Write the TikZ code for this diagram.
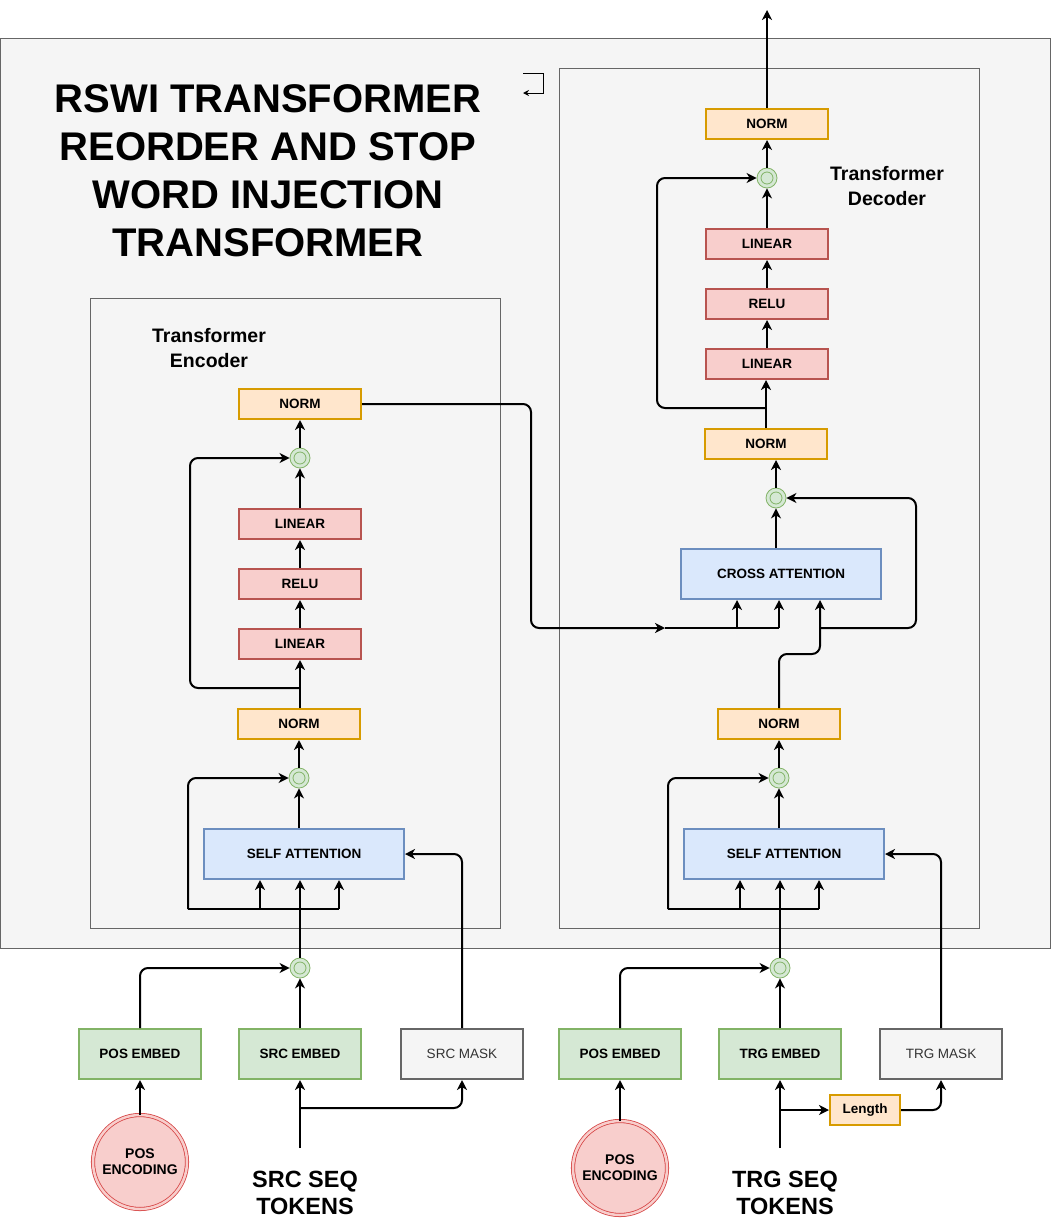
\documentclass[tikz,border=0pt]{standalone}
\usepackage{fontspec}
\setmainfont{Liberation Sans}
\usetikzlibrary{arrows.meta}
\definecolor{colorFrame}{HTML}{666666}
\definecolor{colorBack}{HTML}{F5F5F5}
\definecolor{colorNormFill}{HTML}{FFE6CC}
\definecolor{colorNormLine}{HTML}{D79B00}
\definecolor{colorFFFill}{HTML}{F8CECC}
\definecolor{colorFFLine}{HTML}{B85450}
\definecolor{colorAttFill}{HTML}{DAE8FC}
\definecolor{colorAttLine}{HTML}{6C8EBF}
\definecolor{colorEmbFill}{HTML}{D5E8D4}
\definecolor{colorEmbLine}{HTML}{82B366}
\definecolor{colorMaskText}{HTML}{333333}
\definecolor{colorEncLine}{HTML}{D64545}
\tikzset{
   container/.style={draw=colorFrame,fill=colorBack,line width=0.8pt},
   block/.style={minimum width=122pt,minimum height=30pt,inner sep=0pt,line width=2pt,
     font=\fontsize{13.5}{16}\selectfont\bfseries},
   normbox/.style={block,draw=colorNormLine,fill=colorNormFill},
   ffbox/.style={block,draw=colorFFLine,fill=colorFFFill},
   embbox/.style={block,minimum height=50pt,draw=colorEmbLine,fill=colorEmbFill},
   maskbox/.style={block,minimum height=50pt,draw=colorFrame,fill=colorBack,
     font=\fontsize{13.5}{16}\selectfont,text=colorMaskText},
   attbox/.style={block,minimum width=200pt,minimum height=50pt,draw=colorAttLine,fill=colorAttFill},
   lenbox/.style={block,minimum width=70pt,draw=colorNormLine,fill=colorNormFill},
   adder/.style={circle,minimum size=20pt,inner sep=0pt,draw=colorEmbLine,fill=colorEmbFill,line width=0.8pt,
     path picture={\draw[colorEmbLine,line width=0.8pt] (path picture bounding box.center) circle (6pt);}},
   posenc/.style={circle,minimum size=94pt,inner sep=0pt,draw=colorEncLine,line width=0.8pt,
     double=colorFFFill,double distance=2.5pt,fill=colorFFFill,align=center,
     font=\fontsize{14}{16}\selectfont\bfseries},
   tokens/.style={align=center,font=\fontsize{23.5}{27}\selectfont\bfseries},
   heading/.style={align=center,font=\fontsize{19.5}{24.5}\selectfont\bfseries},
   conn/.style={-{Stealth[length=10pt,width=10pt,inset=3pt]},line width=2pt,rounded corners=8pt},
   bus/.style={line width=2pt,rounded corners=8pt},
}
\newcommand{\dconn}[2]{\draw[conn] (#1) -- (#2)}
\begin{document}
\begin{tikzpicture}[x=1pt,y=-1pt]
      \useasboundingbox (0,0) rectangle (1051,1221);
      \draw[container] (0,38) rectangle (1050,948);
      \draw[container] (90,298) rectangle (500,928);
      \draw[container] (559,68) rectangle (979,928);
      \draw[-{Stealth[length=6pt,width=6pt]},line width=1pt] (523,73) -- (543,73) -- (543,93) -- (523,93);

      \node[align=center,font=\fontsize{40}{48}\selectfont\bfseries] (title) at (268,171)
        {RSWI TRANSFORMER\\REORDER AND STOP\\WORD INJECTION\\TRANSFORMER};
      \node[heading] (encLabel) at (209,348) {Transformer\\Encoder};
      \node[heading] (decLabel) at (887,186) {Transformer\\Decoder};

      % encoder
      \node[normbox] (encNormTop) at (300,404) {NORM};
      \node[adder] (encAddFF) at (300,458) {};
      \node[ffbox] (encLinB) at (300,524) {LINEAR};
      \node[ffbox] (encRelu) at (300,584) {RELU};
      \node[ffbox] (encLinA) at (300,644) {LINEAR};
      \node[normbox] (encNormAtt) at (299,724) {NORM};
      \node[adder] (encAddAtt) at (299,778) {};
      \node[attbox] (encSelfAtt) at (304,854) {SELF ATTENTION};
      \node[adder] (encAddIn) at (300,968) {};
      \node[embbox] (srcPosEmb) at (140,1054) {POS EMBED};
      \node[embbox] (srcEmb) at (300,1054) {SRC EMBED};
      \node[maskbox] (srcMask) at (462,1054) {SRC MASK};
      \node[posenc] (srcPosEnc) at (140,1162) {POS\\ENCODING};
      \node[tokens] (srcTokens) at (305,1193) {SRC SEQ\\TOKENS};
      \coordinate (srcIn) at (300,1148);
      \coordinate (srcSplit) at (300,1108);
      \coordinate (encBusL) at (188,909);
      \coordinate (encBusM) at (260,909);
      \coordinate (encBusR) at (339,909);
      \coordinate (encFFSplit) at (300,688);

      \dconn{srcIn}{srcEmb};
      \draw[conn] (srcSplit) -| (srcMask.south);
      \dconn{srcPosEnc}{srcPosEmb};
      \draw[conn] (srcPosEmb.north) |- (encAddIn.west);
      \dconn{srcEmb}{encAddIn};
      \draw[conn] (encAddIn.north) -- (encAddIn.north |- encSelfAtt.south);
      \draw[bus] (encBusL) -- (encBusR);
      \draw[conn] (encBusL) |- (encAddAtt.west);
      \draw[conn] (encBusM) -- (encBusM |- encSelfAtt.south);
      \draw[conn] (encBusR) -- (encBusR |- encSelfAtt.south);
      \draw[conn] (srcMask.north) |- (encSelfAtt.east);
      \draw[conn] (encSelfAtt.north -| encAddAtt) -- (encAddAtt);
      \dconn{encAddAtt}{encNormAtt};
      \draw[conn] (encNormAtt.north -| encLinA) -- (encLinA);
      \draw[conn] (encFFSplit) -- ++(-110,0) |- (encAddFF.west);
      \dconn{encLinA}{encRelu};
      \dconn{encRelu}{encLinB};
      \dconn{encLinB}{encAddFF};
      \dconn{encAddFF}{encNormTop};

      % decoder
      \node[normbox] (decNormOut) at (767,124) {NORM};
      \node[adder] (decAddFF) at (767,178) {};
      \node[ffbox] (decLinB) at (767,244) {LINEAR};
      \node[ffbox] (decRelu) at (767,304) {RELU};
      \node[ffbox] (decLinA) at (767,364) {LINEAR};
      \node[normbox] (decNormCross) at (766,444) {NORM};
      \node[adder] (decAddCross) at (776,498) {};
      \node[attbox] (decCross) at (781,574) {CROSS ATTENTION};
      \node[normbox] (decNormSelf) at (779,724) {NORM};
      \node[adder] (decAddSelf) at (779,778) {};
      \node[attbox] (decSelfAtt) at (784,854) {SELF ATTENTION};
      \node[adder] (decAddIn) at (780,968) {};
      \node[embbox] (trgPosEmb) at (620,1054) {POS EMBED};
      \node[embbox] (trgEmb) at (780,1054) {TRG EMBED};
      \node[maskbox] (trgMask) at (941,1054) {TRG MASK};
      \node[lenbox] (trgLen) at (865,1110) {Length};
      \node[posenc] (trgPosEnc) at (620,1168) {POS\\ENCODING};
      \node[tokens] (trgTokens) at (785,1193) {TRG SEQ\\TOKENS};
      \coordinate (trgIn) at (780,1148);
      \coordinate (trgSplit) at (780,1110);
      \coordinate (decBusL) at (668,909);
      \coordinate (decBusM) at (740,909);
      \coordinate (decBusR) at (819,909);
      \coordinate (decMem) at (665,628);
      \coordinate (decMemM) at (737,628);
      \coordinate (decMemR) at (779,628);
      \coordinate (decRes) at (820,628);
      \coordinate (decFFSplit) at (766,408);
      \coordinate (decOut) at (767,10);

      \dconn{trgIn}{trgEmb};
      \dconn{trgSplit}{trgLen.west};
      \draw[conn] (trgLen.east) -| (trgMask.south);
      \dconn{trgPosEnc}{trgPosEmb};
      \draw[conn] (trgPosEmb.north) |- (decAddIn.west);
      \dconn{trgEmb}{decAddIn};
      \draw[conn] (decAddIn.north) -- (decAddIn.north |- decSelfAtt.south);
      \draw[bus] (decBusL) -- (decBusR);
      \draw[conn] (decBusL) |- (decAddSelf.west);
      \draw[conn] (decBusM) -- (decBusM |- decSelfAtt.south);
      \draw[conn] (decBusR) -- (decBusR |- decSelfAtt.south);
      \draw[conn] (trgMask.north) |- (decSelfAtt.east);
      \draw[conn] (decSelfAtt.north -| decAddSelf) -- (decAddSelf);
      \dconn{decAddSelf}{decNormSelf};
      \draw[conn] (decNormSelf.north) -- ++(0,-54) -| (decRes) -- (decRes |- decCross.south);
      \draw[conn] (decRes) -- ++(96,0) |- (decAddCross.east);
      \draw[conn] (encNormTop.east) -- ++(169,0) |- (decMem);
      \draw[bus] (decMem) -- (decMemR);
      \draw[conn] (decMemM) -- (decMemM |- decCross.south);
      \draw[conn] (decMemR) -- (decMemR |- decCross.south);
      \draw[conn] (decCross.north -| decAddCross) -- (decAddCross);
      \draw[conn] (decAddCross.north) -- (decAddCross.north |- decNormCross.south);
      \draw[conn] (decNormCross.north) -- (decNormCross.north |- decLinA.south);
      \draw[conn] (decFFSplit) -- ++(-109,0) |- (decAddFF.west);
      \dconn{decLinA}{decRelu};
      \dconn{decRelu}{decLinB};
      \dconn{decLinB}{decAddFF};
      \dconn{decAddFF}{decNormOut};
      \dconn{decNormOut}{decOut};
    \end{tikzpicture}
\end{document}
